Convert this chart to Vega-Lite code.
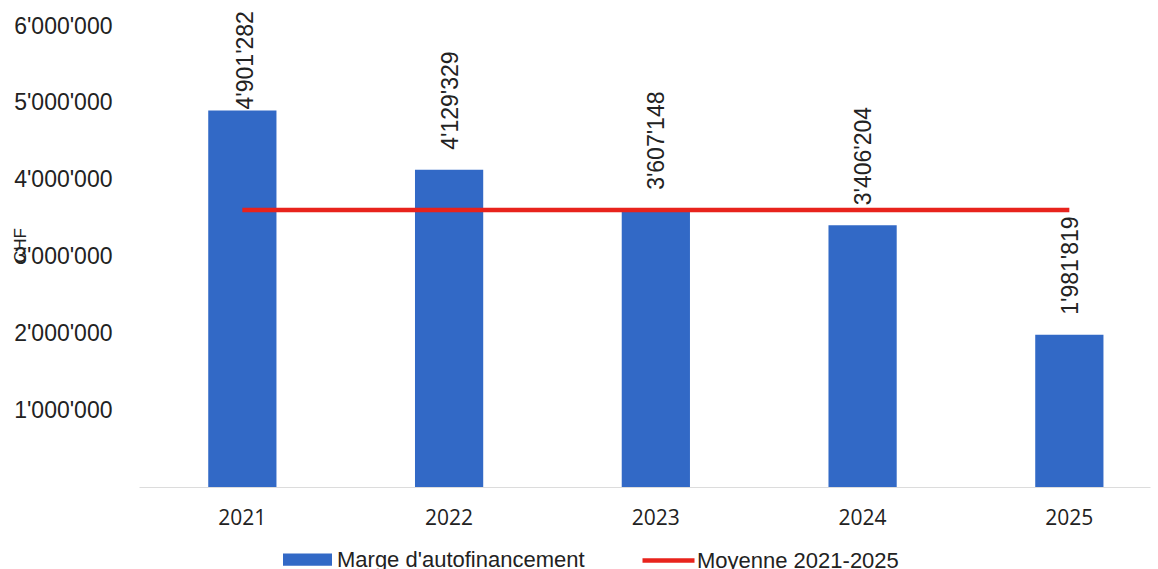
{
  "$schema": "https://vega.github.io/schema/vega-lite/v6.json",
  "width": 1011,
  "height": 461,
  "autosize": {"type": "none"},
  "padding": {"left": 139, "top": 26, "right": 8, "bottom": 82},
  "background": "white",
  "config": {
    "view": {"stroke": null},
    "locale": {"number": {"decimal": ".", "thousands": "'", "grouping": [3], "currency": ["", ""]}}
  },
  "data": {
    "values": [
      {"annee": "2021", "marge": 4901282, "moyenne": 3605156},
      {"annee": "2022", "marge": 4129329, "moyenne": 3605156},
      {"annee": "2023", "marge": 3607148, "moyenne": 3605156},
      {"annee": "2024", "marge": 3406204, "moyenne": 3605156},
      {"annee": "2025", "marge": 1981819, "moyenne": 3605156}
    ]
  },
  "encoding": {
    "x": {
      "field": "annee",
      "type": "nominal",
      "sort": null,
      "scale": {"paddingInner": 0.67, "paddingOuter": 0.28, "align": 0.598},
      "axis": {
        "title": null,
        "labelAngle": 0,
        "labelFont": "Open Sans",
        "labelFontSize": 21,
        "labelColor": "#222222",
        "labelPadding": 20,
        "ticks": false,
        "tickSize": 0,
        "domain": true,
        "domainColor": "#dcdcdc",
        "domainWidth": 1,
        "grid": false
      }
    }
  },
  "layer": [
    {
      "mark": {"type": "bar"},
      "encoding": {
        "y": {
          "field": "marge",
          "type": "quantitative",
          "scale": {"domain": [0, 6000000], "nice": false},
          "axis": {
            "title": "CHF",
            "titleFont": "Liberation Sans",
            "titleFontSize": 17,
            "titleFontWeight": "normal",
            "titleColor": "#222222",
            "titleAngle": 270,
            "titleAlign": "center",
            "titleBaseline": "middle",
            "titleX": -119,
            "titleY": 219,
            "values": [1000000, 2000000, 3000000, 4000000, 5000000, 6000000],
            "format": ",d",
            "labelFont": "Liberation Sans",
            "labelFontSize": 23,
            "labelColor": "#222222",
            "labelPadding": 27,
            "ticks": false,
            "tickSize": 0,
            "domain": false,
            "grid": false
          }
        },
        "fill": {
          "datum": "Marge d'autofinancement",
          "type": "nominal",
          "scale": {"range": ["#3269c6"]},
          "legend": {
            "orient": "none",
            "legendX": 144,
            "legendY": 509,
            "direction": "horizontal",
            "title": null,
            "symbolType": "M-1,-0.25H1V0.25H-1Z",
            "symbolSize": 2401,
            "symbolStrokeWidth": 0,
            "labelFont": "Liberation Sans",
            "labelFontSize": 22,
            "labelColor": "#222222",
            "labelOffset": 5,
            "labelLimit": 500
          }
        }
      }
    },
    {
      "mark": {"type": "line", "strokeWidth": 4.5},
      "encoding": {
        "y": {"field": "moyenne", "type": "quantitative"},
        "stroke": {
          "datum": "Moyenne 2021-2025",
          "type": "nominal",
          "scale": {"range": ["#e8231c"]},
          "legend": {
            "orient": "none",
            "legendX": 501,
            "legendY": 506,
            "direction": "horizontal",
            "title": null,
            "symbolType": "M-1,0H1",
            "symbolSize": 2704,
            "symbolStrokeWidth": 4.5,
            "labelFont": "Liberation Sans",
            "labelFontSize": 22,
            "labelColor": "#222222",
            "labelOffset": 0,
            "labelLimit": 500
          }
        }
      }
    },
    {
      "transform": [{"filter": "datum.annee != '2021'"}],
      "mark": {"type": "text", "angle": 270, "align": "left", "baseline": "middle", "dx": 20, "dy": 1.5, "font": "Liberation Sans", "fontSize": 23, "color": "#222222"},
      "encoding": {
        "y": {"field": "marge", "type": "quantitative"},
        "text": {"field": "marge", "type": "quantitative", "format": ",d"}
      }
    },
    {
      "transform": [{"filter": "datum.annee == '2021'"}],
      "mark": {"type": "text", "angle": 270, "align": "left", "baseline": "middle", "dx": 1, "dy": 4, "font": "Liberation Sans", "fontSize": 23, "color": "#222222"},
      "encoding": {
        "y": {"field": "marge", "type": "quantitative"},
        "text": {"field": "marge", "type": "quantitative", "format": ",d"}
      }
    }
  ]
}
